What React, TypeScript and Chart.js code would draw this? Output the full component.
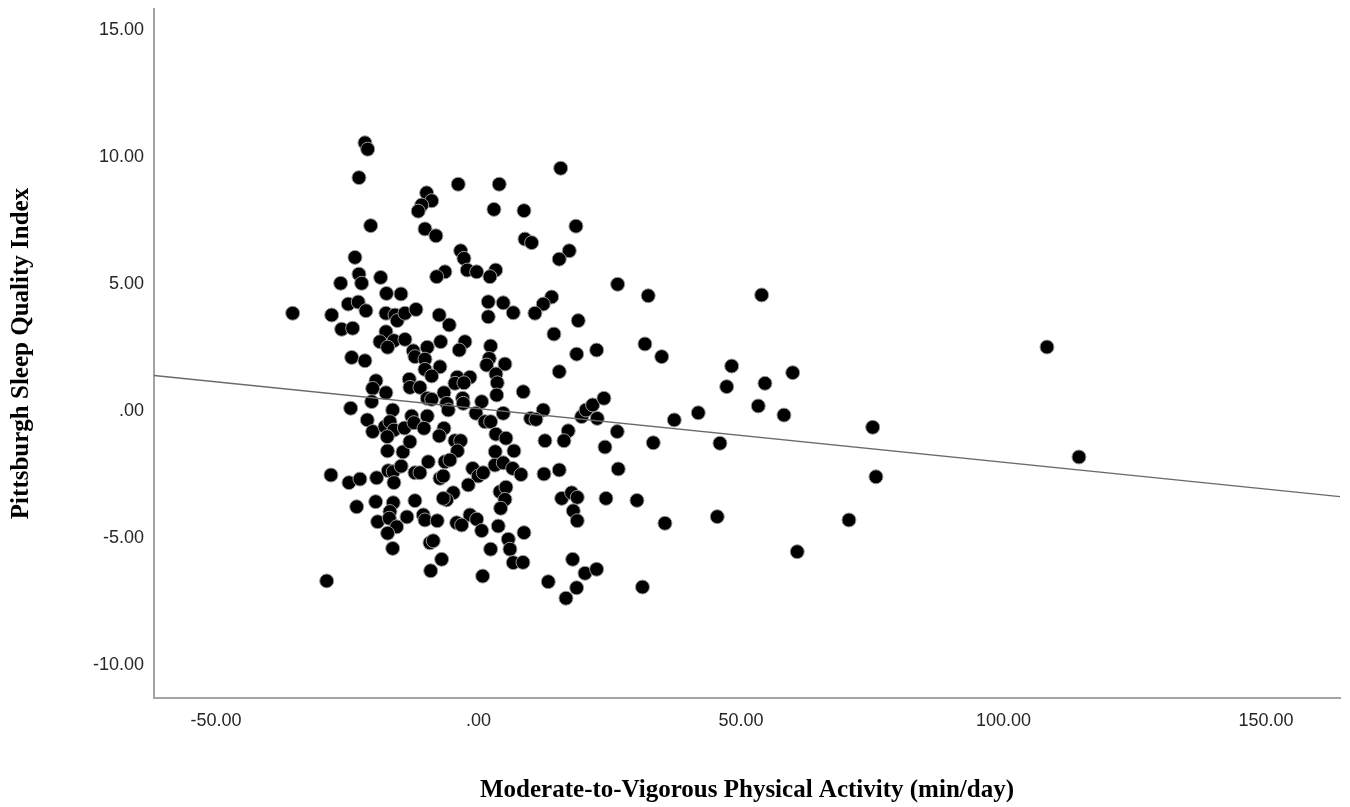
import React, { useEffect, useRef } from "react";
import { Chart, registerables } from "chart.js";

Chart.register(...registerables);

// Moderate-to-Vigorous Physical Activity (min/day), centred
const mvpa = [
  -21.62, -21.1, -22.76, -20.53, -23.52, -22.76, -22.25, -26.25, -18.63, -17.52,
  -14.76, -24.8, -22.9, -21.43, -35.39, -27.96, -17.62, -15.9, -15.47, -26.06,
  -23.96, -17.62, -18.76, -16.1, -17.3, -14.0, -24.15, -21.62, -19.52, -20.15,
  -17.62, -20.34, -24.34, -16.34, -21.18, -20.15, -17.81, -16.86, -16.1, -17.37,
  -14.1, -17.33, -14.38, -28.1, -24.67, -22.57, -19.39, -17.18, -16.23, -14.72,
  -16.1, -23.2, -19.58, -16.23, -16.86, -19.2, -16.99, -15.58, -17.3, -13.62,
  -16.34, -28.91, -3.85, 3.96, -9.87, -8.91, -10.82, -11.47, 2.95, 8.67,
  -10.19, -8.1, 8.86, 10.13, -3.39, -2.76, -2.13, -0.34, -6.38, -7.96,
  3.28, 2.19, 15.66, 18.57, 17.3, 15.39, 26.51, 13.94, -14.0, -11.9,
  -7.47, -5.56, 1.87, 4.72, 6.63, 1.87, -12.42, -12.1, -9.75, -10.19,
  -7.2, -2.57, -3.66, 2.32, 2.06, 1.56, 5.05, -7.33, -10.19, -8.91,
  -13.18, -13.05, -11.14, -4.04, -1.62, -4.48, -2.76, 3.33, 3.58, 3.47,
  8.53, -6.57, -9.75, -8.91, -6.06, -5.75, -3.01, -2.9, 0.61, -0.48,
  1.24, 2.32, 4.72, -12.72, -12.29, -9.75, -10.38, -6.57, -7.47, 3.33,
  5.24, -13.05, -4.48, -3.39, -4.0, 3.2, 6.76, 12.34, 10.76, 19.01,
  14.38, 31.71, 18.7, 22.51, 15.39, 12.34, 9.94, 10.95, 19.66, 20.48,
  21.75, 23.9, 22.63, 26.44, 17.1, 12.67, 16.29, 24.1, -9.56, -6.38,
  -5.43, -12.1, -11.14, -7.33, -6.7, -1.1, -0.04, 0.91, 3.14, 4.72,
  6.51, 8.1, -1.94, -4.8, -6.06, -6.7, -12.1, 4.1, 5.24, 5.05,
  4.23, -10.51, -10.19, -7.85, -1.62, -0.34, -4.15, -3.2, 0.61, 3.77,
  8.67, -9.24, -8.61, 5.68, 2.32, 6.0, -7.01, 6.63, 8.48, -9.1,
  0.8, 12.48, 15.39, 26.63, 15.85, 17.75, 18.82, 18.06, 18.82, 24.29,
  30.19, 17.94, 20.29, 22.51, 13.3, 18.7, 16.67, 31.24, 32.34, 53.94,
  34.9, 48.23, 47.28, 54.57, 59.85, 53.3, 58.19, 41.87, 37.3, 33.3,
  46.0, 75.09, 75.71, 35.52, 45.49, 70.57, 60.72, 108.29, 114.38,
];

// Pittsburgh Sleep Quality Index, centred
const psqi = [
  10.56, 10.31, 9.19, 7.3, 6.05, 5.39, 5.03, 5.03, 5.26, 4.63,
  4.61, 4.21, 4.29, 3.95, 3.85, 3.78, 3.85, 3.78, 3.56, 3.22,
  3.26, 3.12, 2.73, 2.77, 2.51, 2.82, 2.11, 1.98, 1.19, 0.89,
  0.72, 0.37, 0.11, 0.04, -0.35, -0.81, -0.62, -0.42, -0.75, -1.01,
  -0.67, -1.57, -1.61, -2.52, -2.82, -2.68, -2.63, -2.35, -2.39, -2.17,
  -2.82, -3.77, -3.57, -3.61, -3.96, -4.36, -4.22, -4.56, -4.81, -4.17,
  -5.41, -6.69, 8.93, 8.93, 8.59, 8.28, 8.11, 7.87, 7.94, 7.89,
  7.17, 6.9, 6.77, 6.63, 6.31, 6.01, 5.55, 5.48, 5.48, 5.29,
  5.55, 5.29, 9.56, 7.28, 6.31, 5.98, 4.99, 4.49, 3.85, 4.0,
  3.78, 3.39, 4.3, 4.26, 3.87, 3.71, 2.37, 2.14, 2.51, 2.04,
  2.73, 2.73, 2.4, 2.56, 2.07, 1.81, 1.85, 1.74, 1.64, 1.38,
  1.25, 0.93, 0.93, 1.33, 1.33, 1.09, 1.11, 1.46, 1.11, 0.63,
  0.76, 0.72, 0.5, 0.46, 0.3, 0.04, 0.5, 0.3, 0.37, -0.09,
  -0.42, -0.42, -0.09, -0.2, -0.46, -0.2, -0.68, -0.68, -0.98, -0.91,
  -1.07, -1.21, -1.17, -1.17, -1.57, -1.6, -1.57, 4.21, 3.85, 3.56,
  3.03, 2.64, 2.24, 2.4, 1.55, 0.04, -0.29, -0.33, -0.22, 0.04,
  0.24, 0.5, -0.29, -0.81, -0.78, -1.17, -1.17, -1.42, -2.0, -2.0,
  -1.93, -2.43, -2.43, -2.65, -2.56, -2.26, -2.56, -2.43, -2.13, -2.04,
  -2.26, -2.5, -2.91, -3.22, -3.5, -3.44, -3.53, -3.18, -3.0, -3.48,
  -3.83, -4.09, -4.29, -4.32, -4.09, -4.26, -4.4, -4.49, -4.71, -4.53,
  -4.79, -5.19, -5.11, -5.05, -5.44, -5.44, -5.84, -5.97, -5.96, -6.29,
  -6.5, -2.48, -2.32, -2.28, -3.44, -3.22, -3.4, -3.93, -4.32, -3.44,
  -3.52, -5.84, -6.39, -6.23, -6.72, -6.96, -7.37, -6.93, 4.54, 4.57,
  2.14, 1.77, 0.96, 1.09, 1.51, 0.2, -0.16, -0.07, -0.35, -1.25,
  -1.27, -0.64, -2.59, -4.42, -4.16, -4.29, -5.54, 2.52, -1.81,
];

const xTickValues = [-50, 0, 50, 100, 150];
const yTickValues = [-10, -5, 0, 5, 10, 15];
const xRange = [-61.8, 164.1];
const yRange = [-11.3, 15.83];
const fitIntercept = 0.095;
const fitSlope = -0.0211;

const xTitle = "Moderate-to-Vigorous Physical Activity (min/day)";
const yTitle = "Pittsburgh Sleep Quality Index";

function fmt(v: number): string {
  if (v === 0) return ".00";
  return v.toFixed(2);
}

export default function App() {
  const ref = useRef<HTMLCanvasElement | null>(null);

  useEffect(() => {
    if (!ref.current) return;
    const points = mvpa.map((x, i) => ({ x, y: psqi[i] }));
    const fitLine = xRange.map((x) => ({ x, y: fitIntercept + fitSlope * x }));

    const chart = new Chart(ref.current, {
      type: "scatter",
      data: {
        datasets: [
          {
            type: "line",
            data: fitLine,
            borderColor: "#6a6a6a",
            borderWidth: 1.3,
            pointRadius: 0,
            fill: false,
            order: 0,
          } as any,
          {
            data: points,
            backgroundColor: "#000000",
            borderColor: "#9a9a9a",
            borderWidth: 1,
            pointRadius: 7,
            order: 1,
          },
        ],
      },
      options: {
        responsive: false,
        animation: false,
        devicePixelRatio: 1,
        layout: { padding: { left: 0, right: 10, top: 9, bottom: 0 } },
        plugins: {
          legend: { display: false },
          tooltip: { enabled: false },
        },
        scales: {
          x: {
            type: "linear",
            min: xRange[0],
            max: xRange[1],
            grid: { display: true, color: "rgba(0,0,0,0)", drawTicks: false },
            border: { display: true, color: "#a3a3a3", width: 2 },
            afterBuildTicks: (s: any) => {
              s.ticks = xTickValues.map((v) => ({ value: v }));
            },
            afterFit: (s: any) => {
              s.height = 109;
              s.paddingLeft = 0;
              s.paddingRight = 0;
            },
            ticks: {
              padding: 12,
              maxRotation: 0,
              autoSkip: false,
              color: "#262626",
              font: { family: "'Liberation Sans', Arial, sans-serif", size: 18 },
              callback: (v: any) => fmt(Number(v)),
            },
            title: {
              display: true,
              text: xTitle,
              color: "#000000",
              font: { family: "'Liberation Serif', 'Times New Roman', serif", size: 25, weight: "bold" },
              padding: { top: 0, bottom: 1 },
            },
          },
          y: {
            type: "linear",
            min: yRange[0],
            max: yRange[1],
            grid: { display: true, color: "rgba(0,0,0,0)", drawTicks: false },
            border: { display: true, color: "#a3a3a3", width: 2 },
            afterBuildTicks: (s: any) => {
              s.ticks = yTickValues.map((v) => ({ value: v }));
            },
            afterFit: (s: any) => {
              s.width = 154;
              s.paddingTop = 0;
              s.paddingBottom = 0;
            },
            ticks: {
              padding: 10,
              autoSkip: false,
              color: "#262626",
              font: { family: "'Liberation Sans', Arial, sans-serif", size: 18 },
              callback: (v: any) => fmt(Number(v)),
            },
            title: {
              display: true,
              text: yTitle,
              color: "#000000",
              font: { family: "'Liberation Serif', 'Times New Roman', serif", size: 25, weight: "bold" },
              padding: { top: 7, bottom: 0 },
            },
          },
        },
      },
    });
    return () => chart.destroy();
  }, []);

  return (
    <div style={{ position: "absolute", left: 0, top: 0, width: 1350, height: 807, background: "#ffffff" }}>
      <canvas ref={ref} width={1350} height={807} style={{ display: "block" }} />
    </div>
  );
}
